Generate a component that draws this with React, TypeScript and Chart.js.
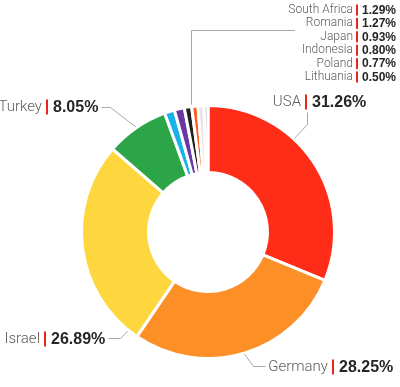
import React, { useEffect, useRef } from "react";
import { Chart, registerables } from "chart.js";

Chart.register(...registerables);

const countries = ["USA", "Germany", "Israel", "Turkey", "South Africa", "Romania", "Japan", "Indonesia", "Poland", "Lithuania"];
const shares = [31.26, 28.25, 26.89, 8.05, 1.29, 1.27, 0.93, 0.8, 0.77, 0.5];
const sliceColors = ["#ff2c17", "#fd8f27", "#fed63e", "#2ba548", "#19b1e8", "#6b37a3", "#1f1f1f", "#ff5b1e", "#e4e4e4", "#c4c4c4"];
const shareLabels = shares.map((v) => v.toFixed(2) + "%");

// indices of the big labels and the small stacked labels
const bigIndices = [0, 1, 2, 3];
const smallIndices = [4, 5, 6, 7, 8, 9];

// annotation layout (not data)
const bigLayout: Record<number, { barX: number; y: number; frac: number; path: number[][] }> = {
  0: { barX: 306, y: 102, frac: 0.38, path: [[307, 124], [307, 112]] },
  1: { barX: 333, y: 367, frac: 0.5, path: [[253, 366], [265, 366]] },
  2: { barX: 45, y: 339, frac: 0.05, path: [[120, 338], [108, 338]] },
  3: { barX: 47, y: 107, frac: 0.5, path: [[110, 107], [101, 107]] },
};
const smallLayout = { barX: 357, y0: 10, dy: 13.4, lineY: 30, lineEndX: 295, anchorIndex: 6 };

const NAME_COLOR = "#5c5c5c";
const VALUE_COLOR = "#262626";
const BAR_COLOR = "#e8261c";
const LINE_COLOR = "#a8a8a8";

function drawLabel(ctx: CanvasRenderingContext2D, name: string, value: string, barX: number, y: number, big: boolean) {
  const nameFont = big ? "300 15px Roboto" : "300 12px Roboto";
  const valueFont = big ? "bold 16px 'Liberation Sans'" : "bold 12px 'Liberation Sans'";
  const gap = big ? 6 : 5;
  const barH = big ? 15 : 11;
  ctx.textBaseline = "middle";
  ctx.font = nameFont;
  ctx.fillStyle = NAME_COLOR;
  ctx.textAlign = "right";
  ctx.fillText(name, barX - gap + 1, y);
  ctx.fillStyle = BAR_COLOR;
  ctx.fillRect(barX - 1, y - barH / 2, 2, barH);
  ctx.font = valueFont;
  ctx.fillStyle = VALUE_COLOR;
  ctx.textAlign = "left";
  ctx.fillText(value, barX + gap, y + 0.5);
}

const labelPlugin = {
  id: "sliceLabels",
  afterDraw(chart: any) {
    const ctx: CanvasRenderingContext2D = chart.ctx;
    const meta = chart.getDatasetMeta(0);
    ctx.save();
    ctx.strokeStyle = LINE_COLOR;
    ctx.lineWidth = 1;
    const anchor = (i: number, frac: number) => {
      const arc = meta.data[i];
      const p = arc.getProps(["x", "y", "startAngle", "endAngle", "outerRadius"], true);
      const a = p.startAngle + frac * (p.endAngle - p.startAngle);
      const r = p.outerRadius + 1;
      return [p.x + Math.cos(a) * r, p.y + Math.sin(a) * r];
    };
    bigIndices.forEach((i) => {
      const L = bigLayout[i];
      const [ax, ay] = anchor(i, L.frac);
      ctx.beginPath();
      ctx.moveTo(ax, ay);
      L.path.forEach(([px, py]) => ctx.lineTo(px + 0.5, py + 0.5));
      ctx.stroke();
      drawLabel(ctx, countries[i], shareLabels[i], L.barX, L.y, true);
    });
    // bracket line for the small slices
    const [sx, sy] = anchor(smallLayout.anchorIndex, 1);
    const lx = Math.round(sx) + 0.5;
    ctx.beginPath();
    ctx.moveTo(lx, sy - 1);
    ctx.lineTo(lx, smallLayout.lineY + 0.5);
    ctx.lineTo(smallLayout.lineEndX, smallLayout.lineY + 0.5);
    ctx.stroke();
    smallIndices.forEach((i, k) => {
      drawLabel(ctx, countries[i], shareLabels[i], smallLayout.barX, smallLayout.y0 + k * smallLayout.dy, false);
    });
    ctx.restore();
  },
};

export default function App() {
  const ref = useRef<HTMLCanvasElement | null>(null);
  useEffect(() => {
    if (!ref.current) return;
    const chart = new Chart(ref.current, {
      type: "doughnut",
      data: {
        labels: countries,
        datasets: [
          {
            data: shares,
            backgroundColor: sliceColors,
            borderColor: "#ffffff",
            borderWidth: 3,
          },
        ],
      },
      options: {
        responsive: false,
        maintainAspectRatio: false,
        animation: false,
        cutout: "47%",
        layout: { padding: { left: 80, right: 64, top: 104, bottom: 27 } },
        plugins: {
          legend: { display: false },
          tooltip: { enabled: false },
        },
      },
      plugins: [labelPlugin],
    });
    return () => chart.destroy();
  }, []);
  return (
    <div style={{ position: "absolute", left: 0, top: 0, width: 400, height: 387, background: "#fff" }}>
      <canvas ref={ref} width={400} height={387} style={{ display: "block", width: 400, height: 387 }} />
    </div>
  );
}
